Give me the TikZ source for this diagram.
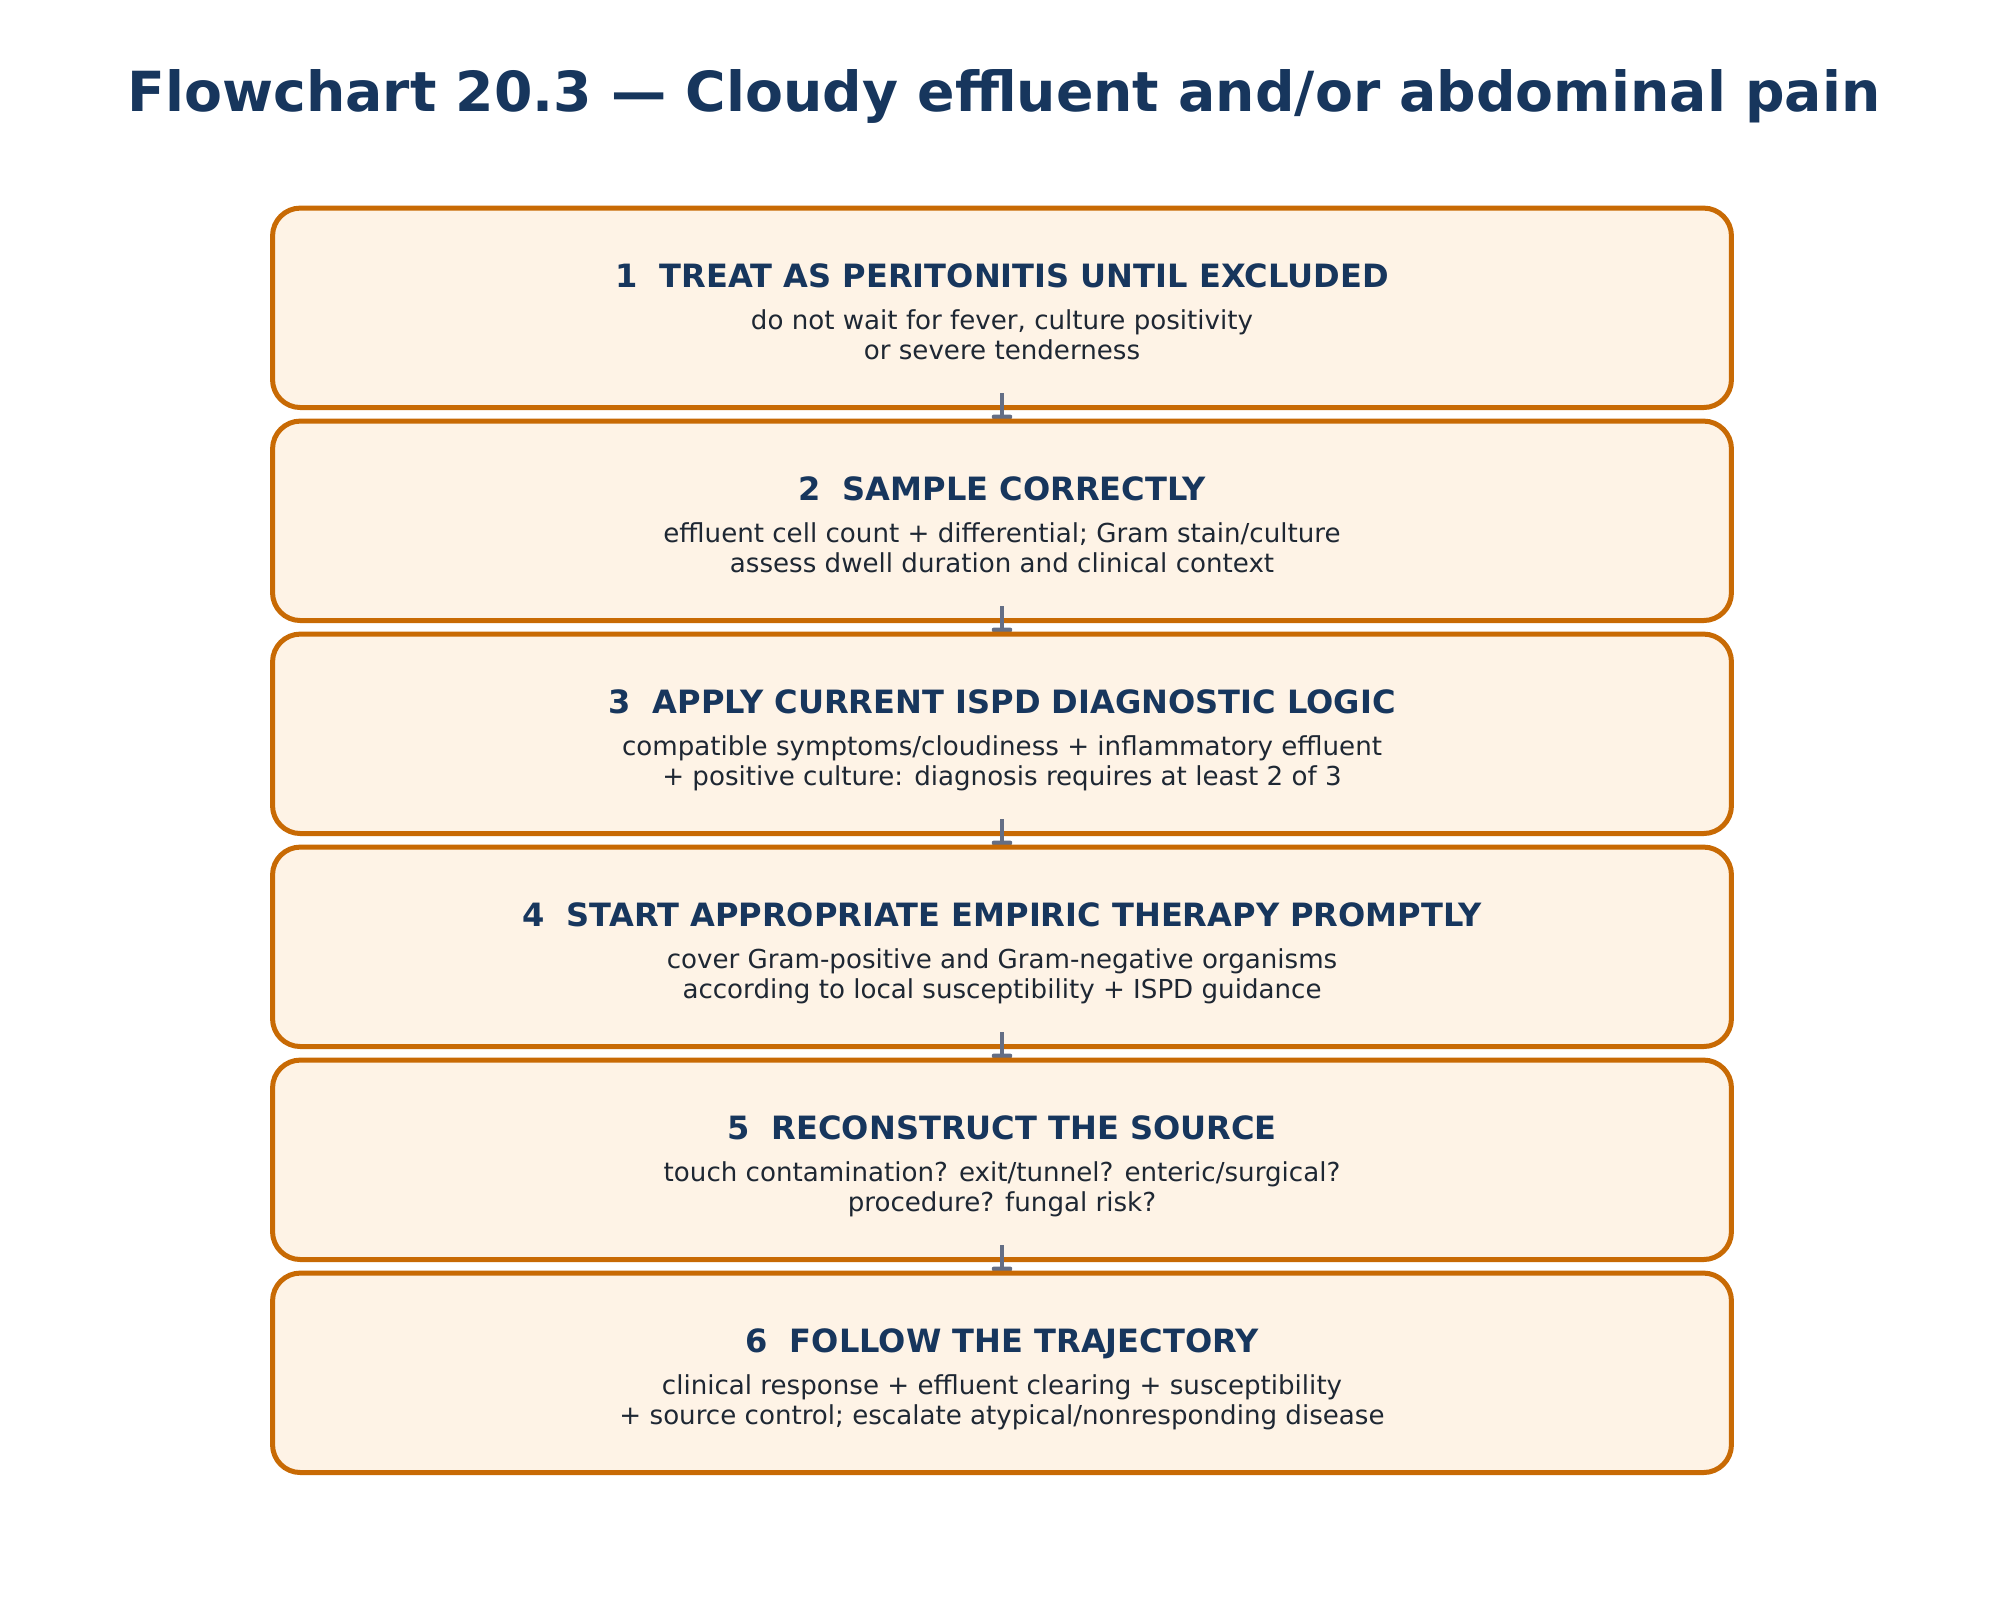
\documentclass[tikz,border=0pt]{standalone}
\usepackage{fontspec}
\setmainfont{DejaVu Sans}
\usetikzlibrary{arrows.meta,calc}

\definecolor{navy}{HTML}{17365D}
\definecolor{boxline}{HTML}{C86A04}
\definecolor{boxfill}{HTML}{FEF3E6}
\definecolor{bodytext}{HTML}{1E2733}
\definecolor{arrowgray}{HTML}{646E85}

\tikzset{
  stepbox/.style={draw=boxline, fill=boxfill, line width=1.8pt, rounded corners=10pt,
    minimum width=525.2pt, minimum height=71.8pt, inner sep=0pt},
  steptitle/.style={anchor=base, inner sep=0pt, text=navy,
    font=\fontsize{11.55}{13}\selectfont\bfseries},
  stepbody/.style={anchor=base, inner sep=0pt, align=center, text=bodytext,
    font=\fontsize{9.4}{10.55}\selectfont},
  flow/.style={draw=arrowgray, line width=1.3pt, -{Triangle[length=10.8pt,width=7.6pt,round]}},
}

\begin{document}
\begin{tikzpicture}[x=0.36pt,y=0.36pt,yscale=-1,xscale=1]
\useasboundingbox (0,0) rectangle (2004,1602);

% Title
\node[anchor=base, inner sep=0pt, text=navy, font=\fontsize{19.9}{24}\selectfont\bfseries] (title) at (1004,111.7) {Flowchart 20.3 — Cloudy effluent and/or abdominal pain};

%Shape: Step 1
\node[stepbox] (s1) at (1002,307.8) {};
% Text Node
\node[steptitle] (h1) at (1002,287.3) {1\ \ TREAT AS PERITONITIS UNTIL EXCLUDED};
% Text Node
\node[stepbody] (b1) at (1002,359.1) {do not wait for fever, culture positivity\\or severe tenderness};
% Connection
\coordinate (t1) at ($(s1.south)+(0,31)$);
\draw[flow] ($(s1.south)+(0,-17)$) -- (t1);

%Shape: Step 2
\node[stepbox] (s2) at (1002,520.8) {};
% Text Node
\node[steptitle] (h2) at (1002,500.3) {2\ \ SAMPLE CORRECTLY};
% Text Node
\node[stepbody] (b2) at (1002,572.1) {effluent cell count + differential; Gram stain/culture\\assess dwell duration and clinical context};
% Connection
\coordinate (t2) at ($(s2.south)+(0,31)$);
\draw[flow] ($(s2.south)+(0,-17)$) -- (t2);

%Shape: Step 3
\node[stepbox] (s3) at (1002,733.8) {};
% Text Node
\node[steptitle] (h3) at (1002,713.3) {3\ \ APPLY CURRENT ISPD DIAGNOSTIC LOGIC};
% Text Node
\node[stepbody] (b3) at (1002,785.1) {compatible symptoms/cloudiness + inflammatory effluent\\+ positive culture: diagnosis requires at least 2 of 3};
% Connection
\coordinate (t3) at ($(s3.south)+(0,31)$);
\draw[flow] ($(s3.south)+(0,-17)$) -- (t3);

%Shape: Step 4
\node[stepbox] (s4) at (1002,946.8) {};
% Text Node
\node[steptitle] (h4) at (1002,926.3) {4\ \ START APPROPRIATE EMPIRIC THERAPY PROMPTLY};
% Text Node
\node[stepbody] (b4) at (1002,998.1) {cover Gram-positive and Gram-negative organisms\\according to local susceptibility + ISPD guidance};
% Connection
\coordinate (t4) at ($(s4.south)+(0,31)$);
\draw[flow] ($(s4.south)+(0,-17)$) -- (t4);

%Shape: Step 5
\node[stepbox] (s5) at (1002,1159.8) {};
% Text Node
\node[steptitle] (h5) at (1002,1139.3) {5\ \ RECONSTRUCT THE SOURCE};
% Text Node
\node[stepbody] (b5) at (1002,1211.1) {touch contamination? exit/tunnel? enteric/surgical?\\procedure? fungal risk?};
% Connection
\coordinate (t5) at ($(s5.south)+(0,31)$);
\draw[flow] ($(s5.south)+(0,-17)$) -- (t5);

%Shape: Step 6
\node[stepbox] (s6) at (1002,1372.8) {};
% Text Node
\node[steptitle] (h6) at (1002,1352.3) {6\ \ FOLLOW THE TRAJECTORY};
% Text Node
\node[stepbody] (b6) at (1002,1424.1) {clinical response + effluent clearing + susceptibility\\+ source control; escalate atypical/nonresponding disease};

\end{tikzpicture}
\end{document}
